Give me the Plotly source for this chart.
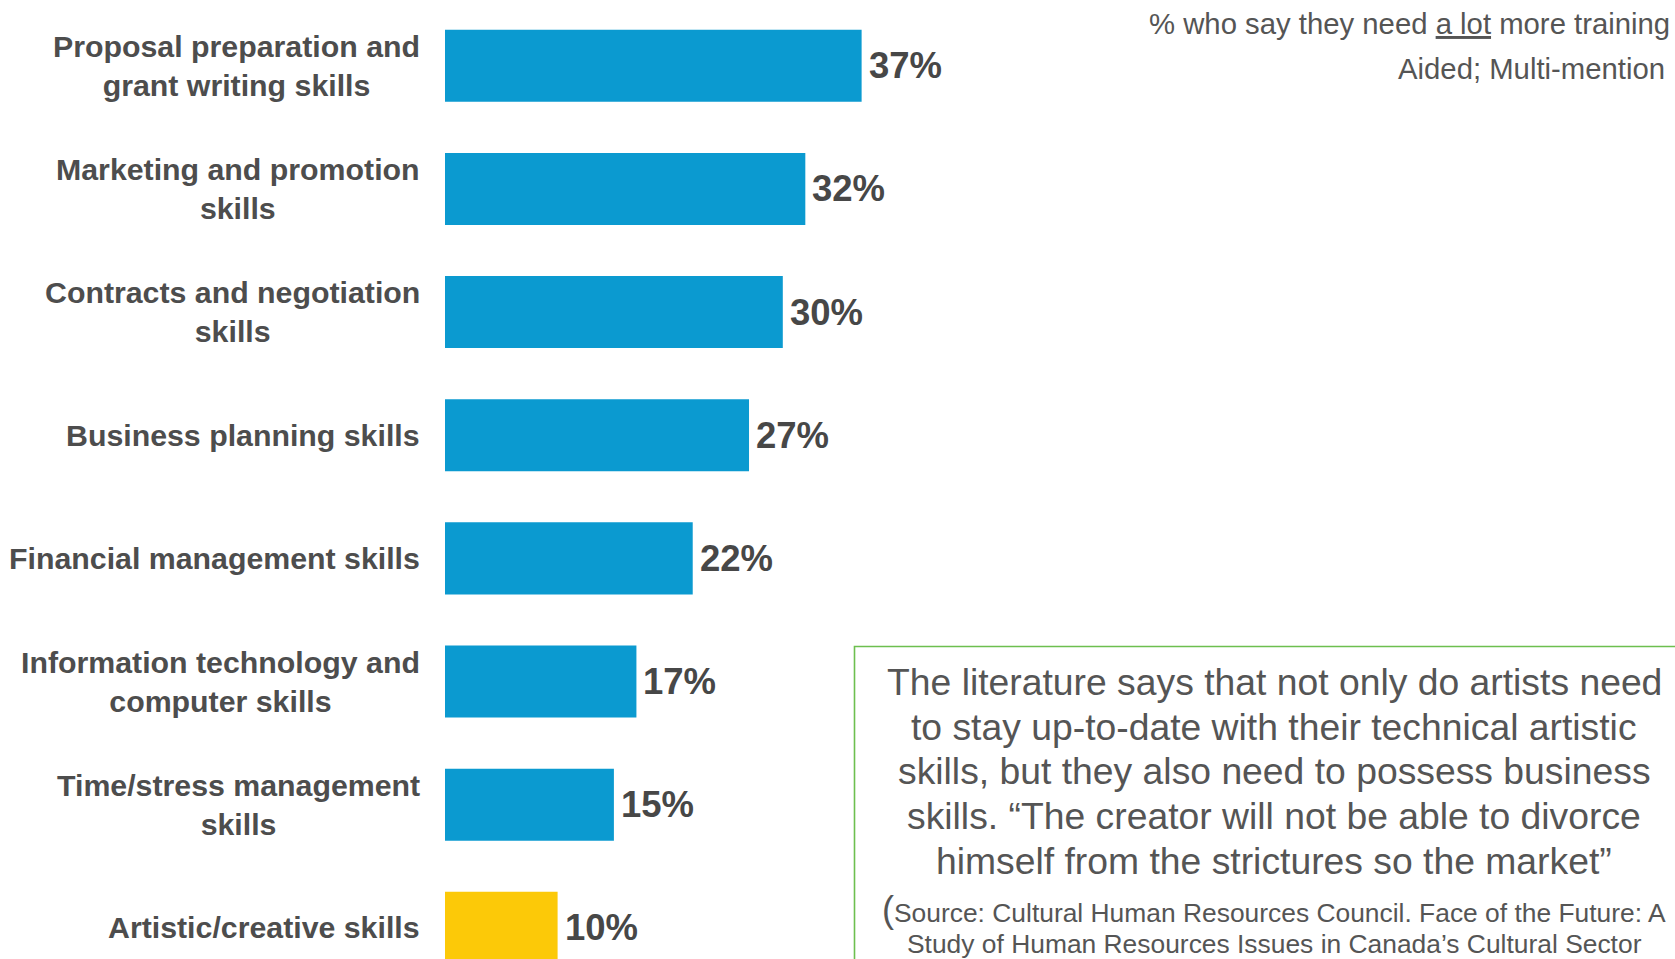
import plotly.graph_objects as go

# Survey data: % who say they need a lot more training
categories = [
    "Proposal preparation and<br>grant writing skills",
    "Marketing and promotion<br>skills",
    "Contracts and negotiation<br>skills",
    "Business planning skills",
    "Financial management skills",
    "Information technology and<br>computer skills",
    "Time/stress management<br>skills",
    "Artistic/creative skills",
]
values = [37, 32, 30, 27, 22, 17, 15, 10]
bar_colors = ["#0b9ad0"] * 7 + ["#fcc908"]

header_lines = [
    "% who say they need <u>a lot</u> more training",
    "Aided; Multi-mention",
]
quote_lines = [
    "The literature says that not only do artists need",
    "to stay up-to-date with their technical artistic",
    "skills, but they also need to possess business",
    "skills. \u201cThe creator will not be able to divorce",
    "himself from the strictures so the market\u201d",
]
source_lines = [
    "<span style='font-size:36px'>(</span>Source: Cultural Human Resources Council. Face of the Future: A",
    "Study of Human Resources Issues in Canada\u2019s Cultural Sector",
]

W, H = 1675, 959
FONT = "Arial, 'Liberation Sans', sans-serif"
LABEL_GRAY = "#4d4d4d"
TEXT_GRAY = "#555555"

positions = list(range(len(categories)))

fig = go.Figure(
    go.Bar(
        x=values,
        y=positions,
        orientation="h",
        width=0.585,
        marker=dict(color=bar_colors, line=dict(width=0)),
        hoverinfo="skip",
    )
)

annotations = []
# category labels, centred multi-line text right-aligned next to the bars
for pos, label in zip(positions, categories):
    annotations.append(dict(
        text=label, x=422 / W, xref="paper", xanchor="right",
        y=pos, yref="y", yanchor="middle", align="center", showarrow=False,
        font=dict(family=FONT, size=30.3, color=LABEL_GRAY, weight="bold"),
    ))
# value labels at the end of each bar
for pos, v in zip(positions, values):
    annotations.append(dict(
        text=f"{v}%", x=v, xref="x", xanchor="left", xshift=5,
        y=pos, yref="y", yanchor="middle", showarrow=False,
        font=dict(family=FONT, size=36.5, color="#474747", weight="bold"),
    ))
# header notes, top right
for txt, xr, yc in zip(header_lines, [1672, 1667], [23.5, 68.4]):
    annotations.append(dict(
        text=txt, x=xr / W, xref="paper", xanchor="right",
        y=1 - yc / H, yref="paper", yanchor="middle", showarrow=False,
        font=dict(family=FONT, size=29.3, color=TEXT_GRAY),
    ))
# quotation inside the green box
box_cx = 1274 / W
for txt, yc in zip(quote_lines, [681.5, 727.4, 771.2, 816.1, 861.0]):
    annotations.append(dict(
        text=txt, x=box_cx, xref="paper", xanchor="center",
        y=1 - yc / H, yref="paper", yanchor="middle", showarrow=False,
        font=dict(family=FONT, size=37.3, color=TEXT_GRAY),
    ))
for txt, yc in zip(source_lines, [909.0, 944.3]):
    annotations.append(dict(
        text=txt, x=box_cx, xref="paper", xanchor="center",
        y=1 - yc / H, yref="paper", yanchor="middle", showarrow=False,
        font=dict(family=FONT, size=26.4, color=TEXT_GRAY),
    ))

fig.update_layout(
    width=W, height=H, autosize=False,
    margin=dict(l=0, r=0, t=0, b=0),
    paper_bgcolor="white", plot_bgcolor="white",
    showlegend=False,
    xaxis=dict(domain=[445 / W, 1], range=[0, (W - 445) / 11.26],
               visible=False, fixedrange=True),
    yaxis=dict(range=[7.253, -0.534], visible=False, fixedrange=True),
    annotations=annotations,
    shapes=[dict(
        type="rect", xref="paper", yref="paper",
        x0=854.5 / W, x1=1.01, y0=-0.05, y1=1 - 646.5 / H,
        line=dict(color="#6dbf4f", width=1.6), fillcolor="rgba(0,0,0,0)",
    )],
)

fig.write_html("out.html", config={"displayModeBar": False})
